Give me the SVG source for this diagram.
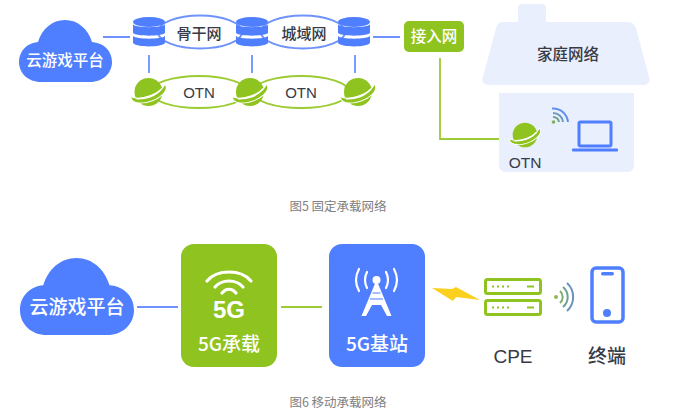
<svg xmlns="http://www.w3.org/2000/svg" width="680" height="417" viewBox="0 0 680 417">
<style>
text{font-family:"Noto Sans CJK SC","Liberation Sans",sans-serif;text-anchor:middle}
.d{fill:#363b47;font-weight:500}
.w{fill:#fff;font-weight:500}
.c{fill:#808080;font-size:12.500px}
.l{font-family:"Liberation Sans",sans-serif}
.bl{stroke:#6f93fb;stroke-width:1.800;fill:none}
.gl{stroke:#9ccb33;stroke-width:1.800;fill:none}
.blue{fill:#4f7fff}
.green{fill:#8fc31f}
</style>
<defs>
<g id="db">
<ellipse cx="16" cy="5" rx="16" ry="5" class="blue"/>
<path d="M0 7.500C3 11 29 11 32 7.500V16C29 19.500 3 19.500 0 16Z" class="blue"/>
<path d="M0 19C3 22.500 29 22.500 32 19V26C29 30.500 3 30.500 0 26Z" class="blue"/>
</g>
<g id="globe">
<circle cx="0" cy="0" r="14" class="green"/>
<g transform="rotate(-20)">
<path d="M-18-1C-19 6-8 9 0 9S19 6 18-1C14 3 8 4.500 0 4.500S-14 3-18-1Z" class="green" stroke="#fff" stroke-width="2" paint-order="stroke"/>
<path d="M-13.500 2.200C-8 4.500-3 5 0 5S8 4.500 13.500 1.500" fill="none" stroke="#fff" stroke-width="1.600"/>
</g>
</g>
<path id="cloud" d="M22 62C9 62 0 53 0 42C0 31 8 23 19 22C23 9 33 0 46 0C59 0 69 9 73 22C85 23 93 31 93 42C93 53 84 62 71 62Z" class="blue"/>
</defs>

<g id="connectors">
<path class="bl" d="M103 37H130M373 37H400M149 55V73M252 55V73M355 55V73"/>
<path class="gl" d="M440 58V139H499"/>
<path class="bl" d="M137 307H178"/>
<path class="gl" d="M281 307H322"/>
</g>

<g id="backbone"><ellipse cx="200" cy="32" rx="42" ry="16.500" fill="#fff" class="bl"/><text class="d" x="199" y="39" font-size="15">骨干网</text></g>
<g id="metro"><ellipse cx="303" cy="32" rx="42" ry="16.500" fill="#fff" class="bl"/><text class="d" x="304" y="39" font-size="15">城域网</text></g>
<g id="otn-ring-1"><ellipse cx="199" cy="92" rx="48" ry="16" fill="#fff" class="gl"/><text class="d l" x="199" y="98" font-size="15">OTN</text></g>
<g id="otn-ring-2"><ellipse cx="301" cy="92" rx="48" ry="16" fill="#fff" class="gl"/><text class="d l" x="301" y="98" font-size="15">OTN</text></g>

<g id="cloud-top"><use href="#cloud" x="19" y="20"/><text class="w" x="65" y="66" font-size="15.500">云游戏平台</text></g>
<g id="db-1"><use href="#db" x="133" y="17"/></g>
<g id="db-2"><use href="#db" x="236" y="17"/></g>
<g id="db-3"><use href="#db" x="338" y="17"/></g>
<g id="otn-1"><use href="#globe" x="148.500" y="92"/></g>
<g id="otn-2"><use href="#globe" x="250" y="92"/></g>
<g id="otn-3"><use href="#globe" x="358" y="92"/></g>

<g id="access"><rect x="404" y="21" width="60" height="31" rx="5" class="green"/><text class="w" x="434" y="42" font-size="15.500">接入网</text></g>

<g id="home">
<rect x="518" y="4" width="28" height="30" rx="4" fill="#e9effd"/>
<path d="M502 22H628Q634 22 636 28L649 77Q651 85 643 85H490Q480 85 483 77L496 28Q498 22 502 22Z" fill="#e9effd"/>
<text class="d" x="568" y="60" font-size="15.500">家庭网络</text>
<path d="M499 93H634V165Q634 172 627 172H506Q499 172 499 165Z" fill="#e9effd"/>
<use href="#globe" transform="translate(525 135) scale(.88)"/>
<text class="d l" x="525" y="168" font-size="15.500">OTN</text>
<circle cx="553.500" cy="122" r="1.800" fill="#7fb060"/>
<path d="M553 117A6 6 0 0 1 559 122" fill="none" stroke="#6aa08a" stroke-width="2"/>
<path d="M553 113A10 10 0 0 1 563 122" fill="none" stroke="#6a9ac0" stroke-width="2"/>
<path d="M552 108.500A15 15 0 0 1 568 122" fill="none" stroke="#5f8ff0" stroke-width="2"/>
<rect x="579" y="122" width="32" height="24" rx="1.500" fill="none" stroke="#4f7fff" stroke-width="3"/>
<rect x="572" y="148.500" width="46" height="3" rx="1" class="blue"/>
</g>

<g id="cloud-bottom"><use href="#cloud" transform="translate(20 258) scale(1.226 1.242)"/><text class="w" x="77" y="314" font-size="19">云游戏平台</text></g>

<g id="bearer">
<rect x="181" y="244" width="96" height="123" rx="13" class="green"/>
<path d="M207 281C217 269 241 269 251 281M215 287C222 279 236 279 243 287M222 293C226 288 232 288 236 293" fill="none" stroke="#fff" stroke-width="3.200" stroke-linecap="round"/>
<text class="w l" x="229" y="318" font-size="24" style="font-weight:700">5G</text>
<text class="w" x="229" y="351" font-size="19">5G承载</text>
</g>

<g id="station">
<rect x="329" y="244" width="96" height="123" rx="13" class="blue"/>
<circle cx="376.500" cy="280" r="4" fill="#fff"/>
<path d="M376.500 280L361.500 316H366L372 305H381L387 316H391.500Z" fill="#fff"/>
<path d="M372.500 293H380.500M370 299H383" stroke="#4f7fff" stroke-width="1.200" fill="none"/>
<path d="M367 272Q363 280 367 288M386 272Q390 280 386 288M359 269Q353 280 359 291M394 269Q400 280 394 291" fill="none" stroke="#fff" stroke-width="2.200" stroke-linecap="round"/>
<text class="w" x="377" y="351" font-size="19">5G基站</text>
</g>

<g id="bolt"><path d="M432 288L452 289L456 287L480 300L456 297L453 301Z" fill="#fbd01e"/></g>

<g id="cpe">
<rect x="485.500" y="279.500" width="55" height="14" rx="2" fill="none" stroke="#8fc31f" stroke-width="3"/>
<rect x="485.500" y="300.500" width="55" height="14" rx="2" fill="none" stroke="#8fc31f" stroke-width="3"/>
<path d="M492 286.500H511M492 307.500H511" stroke="#8fc31f" stroke-width="2" stroke-dasharray="2 3"/>
<path d="M527 286.500H534M527 307.500H534" stroke="#8fc31f" stroke-width="2"/>
<text class="d l" x="513" y="363" font-size="19">CPE</text>
</g>

<g id="wifi">
<circle cx="556" cy="297" r="2" fill="#8fb850"/>
<path d="M560 291A8 8 0 0 1 560 303" fill="none" stroke="#7fae70" stroke-width="2"/>
<path d="M563 287A13 13 0 0 1 563 307" fill="none" stroke="#6f9f99" stroke-width="2"/>
<path d="M567 283A19 19 0 0 1 567 311" fill="none" stroke="#6a93c0" stroke-width="2"/>
</g>

<g id="terminal">
<rect x="592" y="268" width="31" height="54" rx="4" fill="none" stroke="#4f7fff" stroke-width="3.500"/>
<rect x="601" y="272" width="13" height="3.500" rx="1.700" class="blue"/>
<circle cx="607" cy="313" r="4" class="blue"/>
<text class="d" x="607" y="363" font-size="19">终端</text>
</g>

<text class="c" x="338" y="211">图5 固定承载网络</text>
<text class="c" x="338" y="407">图6 移动承载网络</text>
</svg>
